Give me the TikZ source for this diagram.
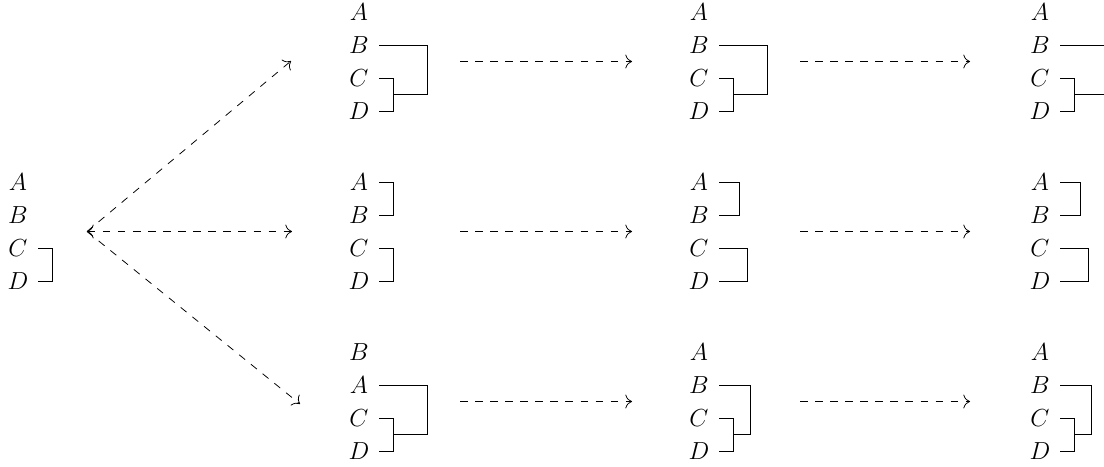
\documentclass[tikz,border=0pt]{standalone}
\usetikzlibrary{calc,arrows.meta}
\begin{document}
\begin{tikzpicture}[x=0.584pt,y=-0.584pt,
  leaf/.style={inner sep=0pt,minimum width=23.36pt,anchor=center,
    font=\fontsize{14.8}{18}\selectfont},
  link/.style={line width=0.5pt},
  flow/.style={line width=0.45pt,dash pattern=on 4.4pt off 4.4pt}]
\useasboundingbox (0,0) rectangle (1104,466);

% starting order
\node[leaf] (m0a) at (18,182) {$A$};
\node[leaf] (m0b) at (18,215) {$B$};
\node[leaf] (m0c) at (18,248) {$C$};
\node[leaf] (m0d) at (18,281) {$D$};
\draw[link] (m0c.east) -- ++(14,0) |- (m0d.east);

% upper row
\foreach \g/\x in {1/359,2/699,3/1040}{
  \node[leaf] (t\g a) at (\x,12) {$A$};
  \node[leaf] (t\g b) at (\x,45) {$B$};
  \node[leaf] (t\g c) at (\x,78) {$C$};
  \node[leaf] (t\g d) at (\x,111) {$D$};
  \draw[link] (t\g c.east) -- ++(14,0) |- (t\g d.east);
}
\draw[link] (t1b.east) -- ++(48,0) |- ($(t1c.east)!.5!(t1d.east)+(14,0)$);
\draw[link] (t2b.east) -- ++(48,0) |- ($(t2c.east)!.5!(t2d.east)+(14,0)$);
\draw[link] (t3b.east) -- ++(44,0);
\draw[link] ($(t3c.east)!.5!(t3d.east)+(14,0)$) -- ++(30,0);

% middle row
\foreach \g/\x/\p/\q in {1/359/14/14,2/699/20/28,3/1040/20/28}{
  \node[leaf] (m\g a) at (\x,182) {$A$};
  \node[leaf] (m\g b) at (\x,215) {$B$};
  \node[leaf] (m\g c) at (\x,248) {$C$};
  \node[leaf] (m\g d) at (\x,281) {$D$};
  \draw[link] (m\g a.east) -- ++(\p,0) |- (m\g b.east);
  \draw[link] (m\g c.east) -- ++(\q,0) |- (m\g d.east);
}

% lower row
\node[leaf] (b1a) at (359,352) {$B$};
\node[leaf] (b1b) at (359,385) {$A$};
\foreach \g/\x in {2/699,3/1040}{
  \node[leaf] (b\g a) at (\x,352) {$A$};
  \node[leaf] (b\g b) at (\x,385) {$B$};
}
\foreach \g/\x/\h in {1/359/48,2/699/31,3/1040/31}{
  \node[leaf] (b\g c) at (\x,418) {$C$};
  \node[leaf] (b\g d) at (\x,451) {$D$};
  \draw[link] (b\g c.east) -- ++(14,0) |- (b\g d.east);
  \draw[link] (b\g b.east) -- ++(\h,0) |- ($(b\g c.east)!.5!(b\g d.east)+(14,0)$);
}

% dashed transitions
\coordinate (fork) at (87,231.5);
\coordinate (up1) at (291,61);
\coordinate (mid1) at (292,231.5);
\coordinate (low1) at (300,404);
\draw[flow,-{To[scale=1.5]}] (fork) -- (up1);
\draw[flow,{To[scale=1.5]}-{To[scale=1.5]}] (fork) -- (mid1);
\draw[flow,-{To[scale=1.5]}] (fork) -- (low1);
\foreach \r/\y in {t/61.5,m/231.5,b/401.5}{
  \coordinate (\r s1) at (460,\y);
  \coordinate (\r e1) at (632,\y);
  \coordinate (\r s2) at (800,\y);
  \coordinate (\r e2) at (970,\y);
  \draw[flow,-{To[scale=1.5]}] (\r s1) -- (\r e1);
  \draw[flow,-{To[scale=1.5]}] (\r s2) -- (\r e2);
}
\end{tikzpicture}
\end{document}
